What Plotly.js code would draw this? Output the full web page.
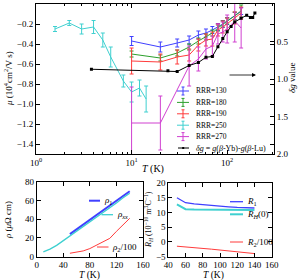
<!DOCTYPE html>
<html><head><meta charset="utf-8">
<script src="https://cdn.plot.ly/plotly-3.0.1.min.js"></script>
<style>html,body{margin:0;padding:0;background:#fff}#plot{width:299px;height:280px}</style>
</head><body><div id="plot"></div>
<script>
// ---- top panel: mobility vs T ----
const T_130 = [10,20,30,40,50,60,70,80,90,100,120,140];
const mu_130 = [-0.37,-0.43,-0.39,-0.36,-0.31,-0.29,-0.26,-0.23,-0.20,-0.17,-0.12,-0.07];
const err_130 = [0.045,0.05,0.04,0.04,0.04,0.04,0.035,0.035,0.035,0.035,0.035,0.035];
const T_180 = [10,20,30,40,50,60,70,80,90,100,120,140];
const mu_180 = [-0.50,-0.54,-0.49,-0.43,-0.37,-0.33,-0.29,-0.24,-0.20,-0.17,-0.12,-0.07];
const err_180 = [0.03,0.03,0.03,0.03,0.03,0.03,0.03,0.03,0.03,0.03,0.04,0.06];
const T_190 = [10,20,30,40,50,60,70,80,90,100,120,140];
const mu_190 = [-0.57,-0.58,-0.53,-0.51,-0.41,-0.36,-0.35,-0.26,-0.23,-0.20,-0.14,-0.09];
const err_190 = [0.13,0.08,0.07,0.06,0.06,0.06,0.07,0.06,0.06,0.06,0.06,0.06];
const T_250 = [1.58,2.23,3.0,4.0,5.0,6.05,8.2,10.0,12.1,14.2];
const mu_250 = [-0.25,-0.19,-0.25,-0.23,-0.36,-0.53,-0.77,-0.88,-0.84,-0.95];
const err_250 = [0.025,0.025,0.05,0.065,0.07,0.1,0.06,0.1,0.08,0.13];
const T_270 = [10,20,40,50,60,70,80,90,100,120,140];
const mu_270 = [-1.19,-1.19,-0.62,-0.55,-0.45,-0.42,-0.30,-0.28,-0.25,-0.17,-0.24];
const err_270 = [0.36,0.27,0.2,0.12,0.1,0.1,0.1,0.1,0.14,0.21,0.2];
const T_dg = [3.8,24,30,40,50,60,70,80,90,100,110,120,140,160,175,185,195];
const dg = [0.87,0.89,0.90,0.82,0.78,0.71,0.70,0.57,0.46,0.37,0.30,0.24,0.19,0.15,0.18,0.18,0.12];
// ---- bottom-left: resistivities ----
const T_rhoxx = [10,20,30,40,50,60,70,80,90,100,110,120,130,140];
const rhoxx = [5,8,12,17,22.5,27.5,32.5,37.5,42.5,47.5,52.5,57.5,63,68];
const T_rho1 = [50,60,70,80,90,100,110,120,130,140];
const rho1 = [24,29,34.5,39.5,44.5,50,55,60,65,70];
const T_rho2 = [50,60,70,80,90,100,110,120,130,140];
const rho2 = [3.5,4.5,6,8.5,12,16,19.5,27,34,41];
// ---- bottom-right: Hall coefficients ----
const T_R = [50,60,70,80,90,100,110,120,130,140];
const R1 = [15,13.3,12.9,12.6,12.3,12.1,11.9,11.7,11.6,11.5];
const RH0 = [12.7,11.1,11.0,10.95,10.9,10.9,10.9,10.85,10.85,10.8];
const R2 = [-1.5,-1.7,-2.0,-2.25,-2.5,-2.8,-3.1,-3.4,-3.7,-4.0];

const C = {b:'#4040ff', g:'#2ca02c', r:'#ff3b3b', c:'#3fd0d0', m:'#d040d0', k:'#000000'};
const F = 'Liberation Serif, Times New Roman, serif';
const W = 299, H = 280;
const px = v => v / W, py = v => 1 - v / H;

function errSeries(x,y,e,col,name){
  return {x:x,y:y,type:'scatter',mode:'lines',name:name,xaxis:'x',yaxis:'y',showlegend:false,
    line:{color:col,width:1},
    error_y:{type:'data',array:e,visible:true,color:col,thickness:1,width:2}};
}
const traces = [
  errSeries(T_130,mu_130,err_130,C.b,'RRR=130'),
  errSeries(T_180,mu_180,err_180,C.g,'RRR=180'),
  errSeries(T_190,mu_190,err_190,C.r,'RRR=190'),
  errSeries(T_250,mu_250,err_250,C.c,'RRR=250'),
  errSeries(T_270,mu_270,err_270,C.m,'RRR=270'),
  {x:T_dg,y:dg,type:'scatter',mode:'lines+markers',showlegend:false,
   xaxis:'x',yaxis:'y2',line:{color:C.k,width:1},marker:{color:C.k,size:3,symbol:'square'}},
  {x:T_rho1,y:rho1,type:'scatter',mode:'lines',showlegend:false,xaxis:'x3',yaxis:'y3',line:{color:C.b,width:2}},
  {x:T_rhoxx,y:rhoxx,type:'scatter',mode:'lines',showlegend:false,xaxis:'x3',yaxis:'y3',line:{color:C.c,width:1.3}},
  {x:T_rho2,y:rho2,type:'scatter',mode:'lines',showlegend:false,xaxis:'x3',yaxis:'y3',line:{color:C.r,width:1}},
  {x:T_R,y:R1,type:'scatter',mode:'lines',showlegend:false,xaxis:'x4',yaxis:'y4',line:{color:C.b,width:1.3}},
  {x:T_R,y:RH0,type:'scatter',mode:'lines',showlegend:false,xaxis:'x4',yaxis:'y4',line:{color:C.c,width:2}},
  {x:T_R,y:R2,type:'scatter',mode:'lines',showlegend:false,xaxis:'x4',yaxis:'y4',line:{color:C.r,width:1}}
];

const ax = {showline:true,linecolor:'#000',linewidth:1,mirror:'ticks',ticks:'inside',ticklen:4,tickcolor:'#000',
  showgrid:false,zeroline:false,tickfont:{family:F,size:9,color:'#000'},automargin:false};

// legend keys & labels (text annotations + small key glyphs)
const annotations = [];
const shapes = [];
function txt(x,y,t,o){annotations.push(Object.assign({xref:'paper',yref:'paper',x:px(x),y:py(y),text:t,showarrow:false,
  xanchor:'left',yanchor:'middle',font:{family:F,size:7.5,color:'#000'}},o||{}));}
function seg(x0,y0,x1,y1,col,w){shapes.push({type:'line',xref:'paper',yref:'paper',x0:px(x0),y0:py(y0),x1:px(x1),y1:py(y1),
  line:{color:col,width:w||1}});}
function errKey(y,col){seg(177,y,189,y,col);seg(183,y-4,183,y+4,col);seg(181.5,y-4,184.5,y-4,col);seg(181.5,y+4,184.5,y+4,col);}

const topLeg = [['RRR=130',C.b],['RRR=180',C.g],['RRR=190',C.r],['RRR=250',C.c],['RRR=270',C.m]];
topLeg.forEach((d,i)=>{const y=91+i*11.4; errKey(y,d[1]); txt(194,y,d[0]);});
{const y=91+5*11.4; seg(178,y,189,y,C.k); shapes.push({type:'rect',xref:'paper',yref:'paper',x0:px(182.2),x1:px(184.2),y0:py(y-1),y1:py(y+1),fillcolor:'#000',line:{width:0}});
 txt(194,y,'<i>δg</i> = <i>g</i>(<i>β</i>-Yb)-<i>g</i>(<i>β</i>-Lu)',{font:{family:F,size:8,color:'#000'}});}

const lf = {family:F,size:9,color:'#000'};
seg(89,200.7,100,200.7,C.b,2); txt(101.5,200.7,'<i>ρ</i><sub>1</sub>',{font:lf});
seg(101.5,214.7,113,214.7,C.c,1.3); txt(114.5,214.7,'<i>ρ<sub>xx</sub></i>',{font:lf});
seg(97,247,108.5,247,C.r,1); txt(110,247,'<i>ρ</i><sub>2</sub>/100',{font:lf});
seg(230,201.7,243,201.7,C.b,1.3); txt(244.5,201.7,'<i>R</i><sub>1</sub>',{font:lf});
seg(230,214.3,243,214.3,C.c,2); txt(244.5,214.3,'<i>R<sub>H</sub></i>(0)',{font:lf});
seg(230,242,243,242,C.r,1); txt(244.5,242,'<i>R</i><sub>2</sub>/100',{font:lf});

// axis titles
const tf = s => ({family:F,size:s,color:'#000'});
txt(153,169,'<i>T</i> (K)',{xanchor:'center',font:tf(10)});
txt(8,79,'<i>μ</i> (10<sup>4</sup>cm<sup>2</sup>/V s)',{xanchor:'center',textangle:-90,font:tf(9)});
txt(292,78,'<i>δg</i> value',{xanchor:'center',textangle:-90,font:tf(9)});
txt(89,275,'<i>T</i> (K)',{xanchor:'center',font:tf(9.5)});
txt(8,220,'<i>ρ</i> (<i>μ</i>Ω cm)',{xanchor:'center',textangle:-90,font:tf(9)});
txt(213,275,'<i>T</i> (K)',{xanchor:'center',font:tf(9.5)});
txt(148,220,'<i>R<sub>H</sub></i> (10<sup>−10</sup> m<sup>3</sup>C<sup>−1</sup>)',{xanchor:'center',textangle:-90,font:tf(8)});

annotations.push({xref:'paper',yref:'paper',x:px(256),y:py(75),ax:-28,ay:0,showarrow:true,arrowhead:2,arrowsize:1,arrowwidth:0.8,arrowcolor:'#000',text:''});

const layout = {
  width:W,height:H,margin:{l:0,r:0,t:0,b:0},paper_bgcolor:'#fff',plot_bgcolor:'rgba(0,0,0,0)',
  font:{family:F,color:'#000'},showlegend:false,
  xaxis:Object.assign({},ax,{type:'log',domain:[0.1204,0.9164],range:[0,2.49],anchor:'y',
    tickvals:[1,10,100],ticktext:['10<sup>0</sup>','10<sup>1</sup>','10<sup>2</sup>'],
    minor:{tickvals:[2,3,4,5,6,7,8,9,20,30,40,50,60,70,80,90,200,300],ticks:'inside',ticklen:2,tickcolor:'#000'}}),
  yaxis:Object.assign({},ax,{domain:[0.45,0.9857],range:[-1.5,0],dtick:0.2,tick0:0,tickformat:'.1f',anchor:'x'}),
  yaxis2:Object.assign({},ax,{overlaying:'y',side:'right',range:[2,0],tickvals:[0,0.5,1,1.5,2],tickformat:'.1f',anchor:'x',mirror:false}),
  xaxis3:Object.assign({},ax,{domain:[0.1227,0.4783],range:[0,160],dtick:40,anchor:'y3'}),
  yaxis3:Object.assign({},ax,{domain:[0.0839,0.35],range:[0,80],dtick:20,anchor:'x3'}),
  xaxis4:Object.assign({},ax,{domain:[0.5629,0.9087],range:[40,160],dtick:20,anchor:'y4'}),
  yaxis4:Object.assign({},ax,{domain:[0.0839,0.3464],range:[-5,20],dtick:5,anchor:'x4'}),
  annotations:annotations, shapes:shapes
};
Plotly.newPlot('plot',traces,layout,{staticPlot:true,displayModeBar:false});
</script></body></html>
